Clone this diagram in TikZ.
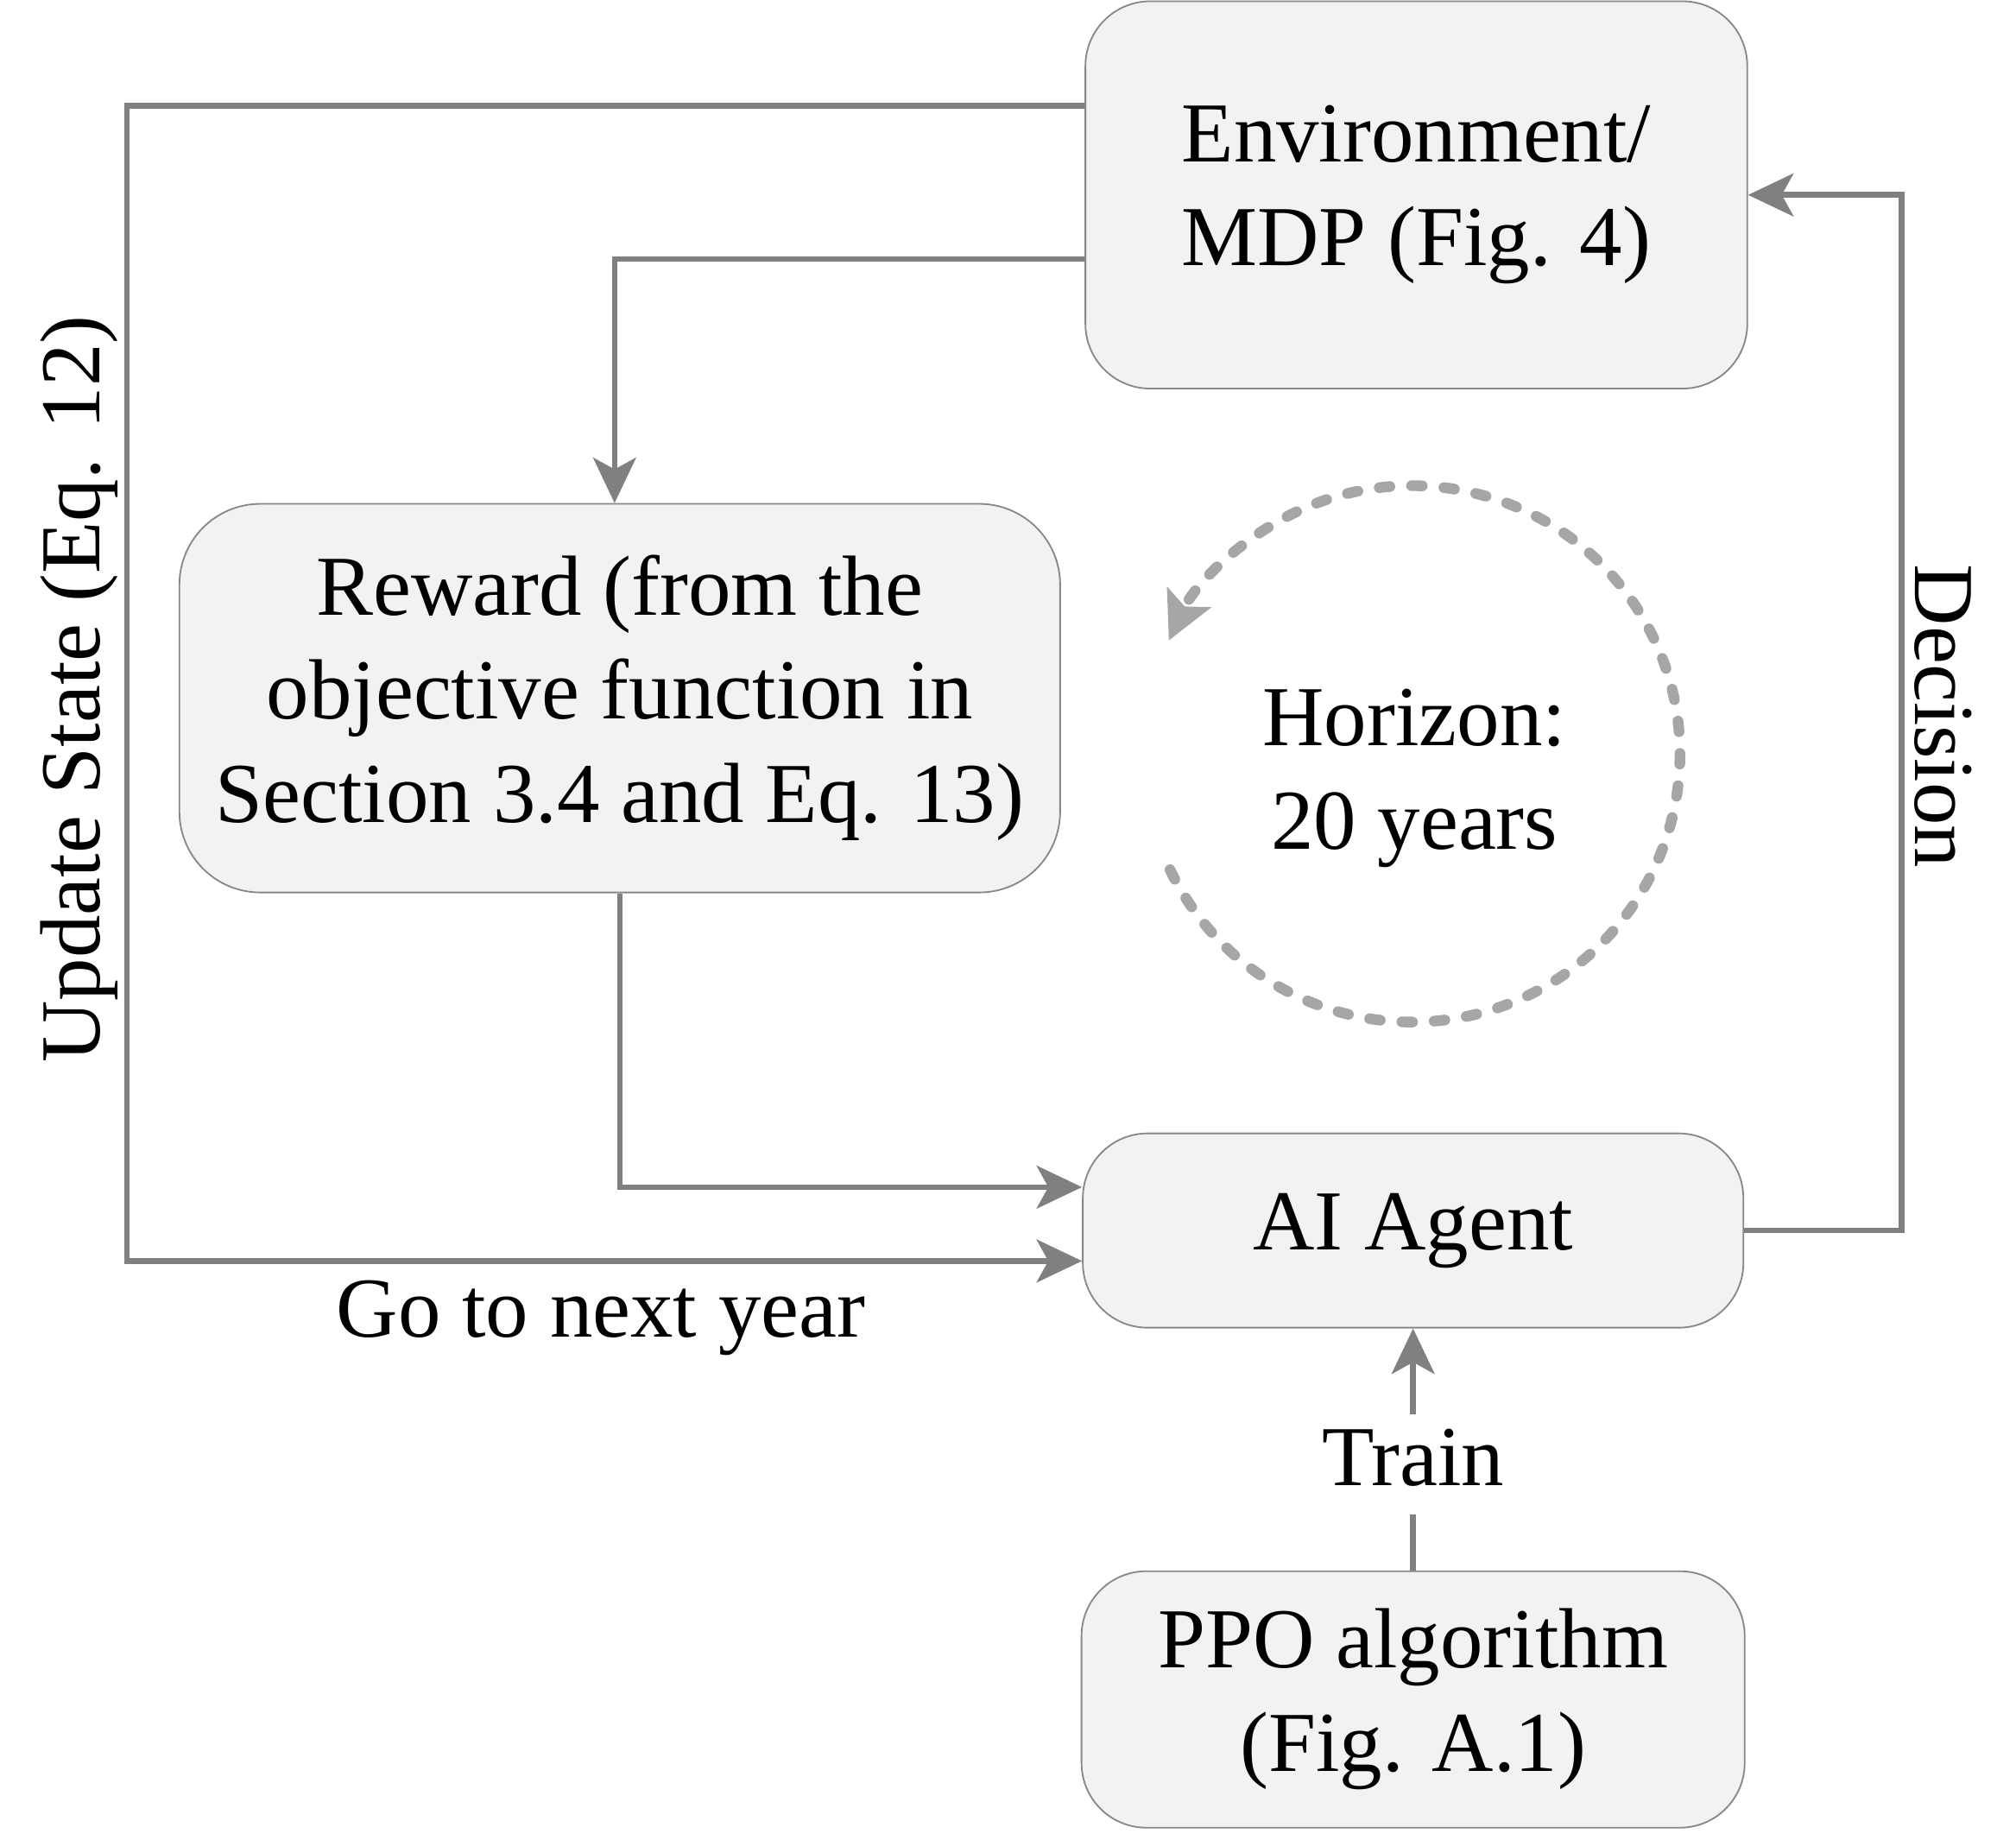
\documentclass[tikz,border=0pt]{standalone}
\usepackage{fontspec}
\setmainfont{Liberation Serif}
\usetikzlibrary{arrows.meta}
\definecolor{boxfill}{HTML}{F2F2F2}
\definecolor{boxline}{HTML}{888888}
\definecolor{linegray}{HTML}{808080}
\definecolor{arcgray}{HTML}{A6A6A6}
\tikzset{>={Stealth[length=0.7cm, width=0.66cm, inset=0.18cm]}}
\tikzset{
  every node/.style={font=\fontsize{37.5}{45.5}\selectfont},
  box/.style={draw=boxline, line width=0.7pt, fill=boxfill, rounded corners=1cm, align=center},
  link/.style={draw=linegray, line width=2.5pt},
  cyclearc/.style={draw=arcgray, line width=0.165cm, line cap=round, dash pattern=on 0.165cm off 0.335cm,
    -{Stealth[length=0.73cm, width=0.73cm, inset=0.15cm]}}
}

\begin{document}
\begin{tikzpicture}
\useasboundingbox (0,0) rectangle (31.13,28.4);
\node[box, minimum width=10.22cm, minimum height=5.98cm] (env) at (21.87,25.39) {Environment/\\MDP (Fig. 4)};
\node[box, minimum width=13.6cm, minimum height=6cm, rounded corners=1.25cm] (reward) at (9.57,17.62) {Reward (from the\\objective function in\\Section 3.4 and Eq. 13)};
\node[box, minimum width=10.2cm, minimum height=3cm] (agent) at (21.82,9.4) {AI Agent};
\node[box, minimum width=10.24cm, minimum height=3.96cm] (ppo) at (21.82,2.16) {PPO algorithm\\(Fig. A.1)};
\node[inner sep=0pt, anchor=base] (train) at (21.82,5.46) {Train};
\node[align=center] (horizon) at (21.84,16.38) {Horizon:\\20 years};
\node[rotate=90, anchor=base] (update) at (1.54,17.76) {Update State (Eq. 12)};
\node[rotate=-90, anchor=base] (decision) at (29.58,17.34) {Decision};
\node[anchor=base] (nextyear) at (9.28,7.76) {Go to next year};
\coordinate (upd) at (1.96,17);
\coordinate (dec) at (29.36,17);
\coordinate (loopc) at (21.8,16.76);

\draw[link, ->] ([yshift=1.38cm]env.west) -| (upd) |- ([yshift=-0.47cm]agent.west);
\draw[link, ->] ([yshift=-0.99cm]env.west) -| ([xshift=-0.08cm]reward.north);
\draw[link, ->] (reward.south) |- ([yshift=0.67cm]agent.west);
\draw[link, ->] (agent.east) -| (dec) |- (env.east);
\draw[link, shorten >=0.42cm] (ppo.north) -- (train.south);
\draw[link, ->, shorten <=0.22cm] (train.north) -- (agent.south);
\draw[cyclearc] ([shift={(205.6:4.14)}]loopc) arc[start angle=205.6, end angle=515, radius=4.14cm];
\end{tikzpicture}
\end{document}
